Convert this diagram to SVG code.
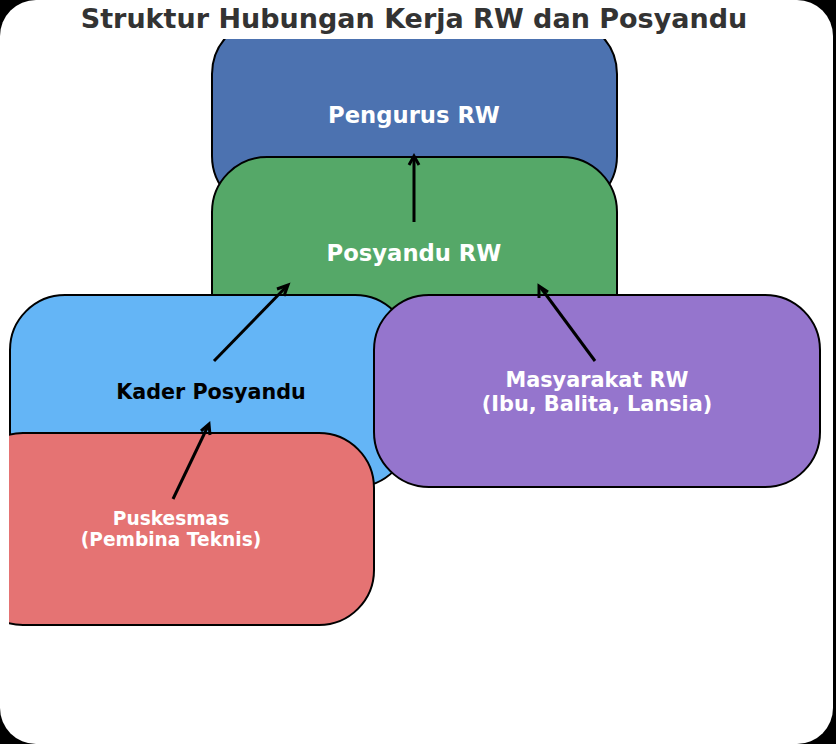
<svg xmlns="http://www.w3.org/2000/svg" width="836" height="744" viewBox="0 0 836 744">
  <style>
    .box { stroke: #000; stroke-width: 2; }
    .lbl { font-family: "DejaVu Sans", "Liberation Sans", sans-serif; font-weight: bold; text-anchor: middle; }
    .w { fill: #ffffff; }
    .k { fill: #000000; }
    .conn line { stroke: #000; stroke-width: 3; fill: none; }
    .conn path { stroke: #000; stroke-width: 3; fill: none; stroke-linecap: butt; stroke-linejoin: miter; }
  </style>
  <defs>
    <clipPath id="axes">
      <rect x="9" y="39" width="827" height="705"/>
    </clipPath>
  </defs>
  <rect x="0" y="0" width="836" height="744" fill="#000"/>
  <rect x="0" y="0" width="833" height="744" rx="36" ry="36" fill="#ffffff"/>
  <text class="lbl" x="414" y="28" font-size="27" fill="#333333">Struktur Hubungan Kerja RW dan Posyandu</text>
  <g clip-path="url(#axes)">
    <g id="pengurus">
      <rect class="box" x="212" y="19" width="405" height="192" rx="55" ry="55" fill="#4C72B0"/>
      <text class="lbl w" x="414" y="123" font-size="22.7">Pengurus RW</text>
    </g>
    <g id="posyandu">
      <rect class="box" x="212" y="157" width="405" height="192" rx="55" ry="55" fill="#55A868"/>
      <text class="lbl w" x="414" y="261" font-size="22.7">Posyandu RW</text>
    </g>
    <g id="kader">
      <rect class="box" x="10" y="295" width="400" height="192" rx="55" ry="55" fill="#64B5F6"/>
      <text class="lbl k" x="211" y="399" font-size="20.7">Kader Posyandu</text>
    </g>
    <g id="masyarakat">
      <rect class="box" x="374" y="295" width="446" height="192" rx="55" ry="55" fill="#9575CD"/>
      <text class="lbl w" x="597" y="387" font-size="20.8">Masyarakat RW</text>
      <text class="lbl w" x="597" y="411" font-size="20.8">(Ibu, Balita, Lansia)</text>
    </g>
    <g id="puskesmas">
      <rect class="box" x="-32" y="433" width="406" height="192" rx="55" ry="55" fill="#E57373"/>
      <text class="lbl w" x="171" y="525" font-size="18.6">Puskesmas</text>
      <text class="lbl w" x="171" y="546" font-size="18.6">(Pembina Teknis)</text>
    </g>
    <g id="connectors" class="conn">
      <line x1="414" y1="222" x2="414" y2="157"/>
      <path d="M409,165 L414,156 L419,165"/>
      <line x1="214" y1="361" x2="287" y2="286"/>
      <path d="M277,289 L288,285 L284,296"/>
      <line x1="595" y1="361" x2="541" y2="288"/>
      <path d="M539,298 L539,286 L548,292"/>
      <line x1="173" y1="499" x2="208" y2="426"/>
      <path d="M201,431 L209,424 L210,435"/>
    </g>
  </g>
</svg>
